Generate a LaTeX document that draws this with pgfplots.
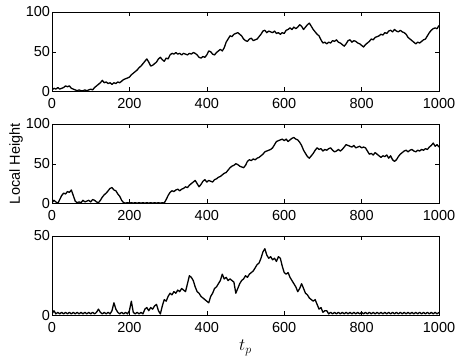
\documentclass[border=0pt]{standalone}
\usepackage{pgfplots}
\pgfplotsset{compat=1.18}
\usepackage{fontspec}
\setmainfont{Liberation Sans}
\pgfplotsset{
  panel/.style={
    scale only axis, width=387pt, height=79.5pt,
    anchor=south west,
    xmin=0, xmax=1000,
    xtick={0,200,400,600,800,1000},
    tick align=inside, major tick length=4pt,
    tick style={black, line width=0.4pt},
    axis line style={line width=0.5pt},
    tick label style={font=\fontsize{14.5}{16}\selectfont},
    label style={font=\fontsize{14.5}{16}\selectfont},
    /pgf/number format/assume math mode=true,
    /pgf/number format/1000 sep={},
    xticklabel style={yshift=-3.5pt},
    yticklabel style={xshift=1.5pt},
  },
  walk/.style={black, line width=1.3pt, mark=none, line join=round},
}
\begin{document}
\begin{tikzpicture}
\path[use as bounding box] (0pt,0pt) rectangle (460pt,358pt);
% Panel 1
\begin{axis}[panel, at={(52pt,266.5pt)}, ymin=0, ymax=100, ytick={0,50,100}]
\addplot[walk] coordinates {
(0,2)(5,4)(10,3)(15,5)(20,3)(25,4)(30,5)(35,7)(40,6)(45,7)(50,4)(55,3)(60,2)(65,1)(70,2)(75,1)(80,1)(85,2)(90,1)(95,2)
(100,3)(105,2)(110,5)(115,7)(120,9)(125,11)(130,14)(135,11)(140,12)(145,10)(150,11)(155,9)(160,11)(165,10)(170,12)(175,11)(180,13)(185,15)(190,16)(195,17)
(200,18)(205,21)(210,23)(215,25)(220,27)(225,30)(230,32)(235,35)(240,38)(245,41)(250,37)(255,32)(260,33)(265,35)(270,37)(275,41)(280,43)(285,40)(290,38)(295,42)
(300,41)(305,46)(310,48)(315,47)(320,49)(325,47)(330,48)(335,46)(340,48)(345,47)(350,46)(355,48)(360,47)(365,49)(370,48)(375,46)(380,43)(385,42)(390,44)(395,43)
(400,46)(405,51)(410,50)(415,47)(420,46)(425,49)(430,51)(435,53)(440,51)(445,55)(450,62)(455,66)(460,70)(465,69)(470,72)(475,73)(480,74)(485,72)(490,70)(495,66)
(500,64)(505,63)(510,66)(515,67)(520,64)(525,65)(530,66)(535,69)(540,72)(545,76)(550,77)(555,74)(560,76)(565,75)(570,74)(575,76)(580,73)(585,74)(590,72)(595,74)
(600,73)(605,77)(610,78)(615,80)(620,78)(625,81)(630,79)(635,81)(640,84)(645,82)(650,78)(655,81)(660,84)(665,86)(670,82)(675,78)(680,75)(685,72)(690,70)(695,65)
(700,61)(705,62)(710,60)(715,62)(720,61)(725,64)(730,63)(735,65)(740,62)(745,61)(750,59)(755,57)(760,60)(765,64)(770,65)(775,62)(780,64)(785,63)(790,61)(795,60)
(800,58)(805,56)(810,59)(815,61)(820,63)(825,66)(830,65)(835,68)(840,69)(845,70)(850,72)(855,71)(860,74)(865,73)(870,76)(875,77)(880,75)(885,78)(890,76)(895,75)
(900,77)(905,75)(910,74)(915,72)(920,68)(925,66)(930,64)(935,62)(940,60)(945,62)(950,61)(955,63)(960,65)(965,66)(970,70)(975,74)(980,77)(985,79)(990,80)(995,79)(1000,83)
};
\end{axis}
% Panel 2
\begin{axis}[panel, at={(52pt,154.5pt)}, ymin=0, ymax=100, ytick={0,50,100},
  ylabel={Local Height},
  ylabel style={at={(axis description cs:-0.093,0.5)}, anchor=center}]
\addplot[walk] coordinates {
(0,1)(5,4)(10,2)(15,0)(20,5)(25,10)(30,13)(35,12)(40,15)(45,14)(50,17)(55,10)(60,3)(65,1)(70,2)(75,1)(80,4)(85,2)(90,3)(95,4)
(100,2)(105,5)(110,4)(115,2)(120,1)(125,4)(130,8)(135,11)(140,13)(145,16)(150,19)(155,20)(160,17)(165,16)(170,12)(175,9)(180,4)(185,1)(190,0.5)(195,1)
(200,0.5)(205,1)(210,0.5)(215,1)(220,0.5)(225,1)(230,0.5)(235,1)(240,0.5)(245,1)(250,0.5)(255,1)(260,0.5)(265,1)(270,0.5)(275,1)(280,0.5)(285,1)(290,0.5)(295,5)
(300,10)(305,14)(310,16)(315,15)(320,17)(325,18)(330,16)(335,18)(340,19)(345,21)(350,20)(355,23)(360,25)(365,27)(370,29)(375,25)(380,21)(385,24)(390,28)(395,30)
(400,27)(405,29)(410,28)(415,27)(420,30)(425,31)(430,33)(435,34)(440,36)(445,38)(450,39)(455,42)(460,45)(465,47)(470,48)(475,50)(480,49)(485,47)(490,46)(495,45)
(500,48)(505,53)(510,55)(515,54)(520,56)(525,55)(530,57)(535,58)(540,60)(545,62)(550,65)(555,66)(560,67)(565,68)(570,70)(575,74)(580,78)(585,79)(590,80)(595,81)
(600,79)(605,81)(610,78)(615,80)(620,82)(625,83)(630,81)(635,80)(640,77)(645,73)(650,67)(655,63)(660,59)(665,57)(670,60)(675,63)(680,67)(685,70)(690,68)(695,69)
(700,66)(705,68)(710,67)(715,69)(720,70)(725,67)(730,65)(735,66)(740,68)(745,66)(750,68)(755,71)(760,74)(765,73)(770,72)(775,71)(780,73)(785,70)(790,71)(795,72)
(800,70)(805,71)(810,70)(815,66)(820,62)(825,63)(830,61)(835,64)(840,62)(845,60)(850,58)(855,60)(860,59)(865,61)(870,57)(875,60)(880,55)(885,53)(890,55)(895,59)
(900,62)(905,64)(910,66)(915,67)(920,65)(925,67)(930,68)(935,66)(940,65)(945,67)(950,66)(955,68)(960,67)(965,69)(970,68)(975,71)(980,73)(985,76)(990,72)(995,74)(1000,71)
};
\end{axis}
% Panel 3
\begin{axis}[panel, at={(52pt,42.5pt)}, ymin=0, ymax=50, ytick={0,50},
  xlabel={$t_p$},
  xlabel style={font=\fontsize{18}{20}\selectfont, at={(axis description cs:0.5,-0.41)}, anchor=center}]
\addplot[walk] coordinates {
(0,1)(5,3)(10,1)(15,2)(20,1)(25,2)(30,1)(35,2)(40,1)(45,2)(50,1)(55,2)(60,1)(65,2)(70,1)(75,2)(80,1)(85,2)(90,1)(95,2)
(100,1)(105,2)(110,1)(115,2)(120,4)(125,2)(130,1)(135,2)(140,1)(145,2)(150,1)(155,3)(160,8)(165,4)(170,2)(175,1)(180,2)(185,1)(190,2)(195,1)
(200,3)(205,9)(210,2)(215,1)(220,2)(225,1)(230,2)(235,1)(240,4)(245,5)(250,3)(255,5)(260,4)(265,6)(270,7)(275,3)(280,1)(285,6)(290,10)(295,9)
(300,12)(305,14)(310,13)(315,15)(320,14)(325,16)(330,15)(335,17)(340,16)(345,15)(350,20)(355,25)(360,24)(365,22)(370,18)(375,15)(380,14)(385,12)(390,11)(395,10)
(400,9)(405,8)(410,12)(415,14)(420,17)(425,18)(430,20)(435,22)(440,26)(445,23)(450,24)(455,22)(460,23)(465,22)(470,21)(475,14)(480,17)(485,20)(490,22)(495,23)
(500,25)(505,24)(510,26)(515,27)(520,28)(525,30)(530,32)(535,33)(540,36)(545,40)(550,42)(555,38)(560,36)(565,37)(570,35)(575,36)(580,34)(585,37)(590,36)(595,31)
(600,27)(605,26)(610,27)(615,24)(620,22)(625,20)(630,18)(635,15)(640,17)(645,20)(650,17)(655,14)(660,13)(665,11)(670,10)(675,9)(680,10)(685,7)(690,4)(695,5)
(700,2)(705,3)(710,3)(715,1)(720,2)(725,1)(730,2)(735,1)(740,2)(745,1)(750,2)(755,1)(760,2)(765,1)(770,2)(775,1)(780,2)(785,1)(790,2)(795,1)
(800,2)(805,1)(810,2)(815,1)(820,2)(825,1)(830,2)(835,1)(840,2)(845,1)(850,2)(855,1)(860,2)(865,1)(870,2)(875,1)(880,2)(885,1)(890,2)(895,1)
(900,2)(905,1)(910,2)(915,1)(920,2)(925,1)(930,2)(935,1)(940,2)(945,1)(950,2)(955,1)(960,2)(965,1)(970,2)(975,1)(980,2)(985,1)(990,2)(995,1)(1000,2)
};
\end{axis}
\end{tikzpicture}
\end{document}
